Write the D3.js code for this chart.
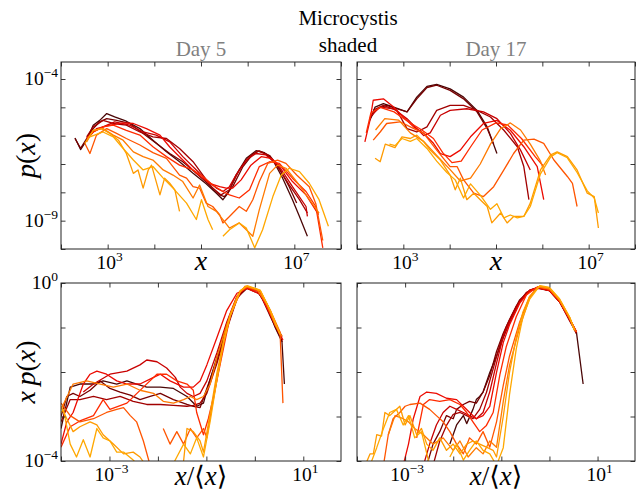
<!DOCTYPE html>
<html>
<head>
<meta charset="utf-8">
<script src="https://cdn.jsdelivr.net/npm/d3@7"></script>
<style>
  body { margin: 0; background: #fff; }
</style>
</head>
<body>
<svg id="fig" width="637" height="496" font-family="Liberation Serif, Times New Roman, DejaVu Serif, serif"></svg>
<script>
// Colour of each sampling day's curve, darkest first
const seriesColors = ["#4a0606", "#760000", "#a10000", "#c80000", "#ec0a00",
                      "#ff2b00", "#ff5500", "#ff7a00", "#ff9b00", "#ffa800"];

// Size distributions p(x); each point is [log10 x, log10 p(x)], null = empty bin
const day5Density = [
  [[2.30,-6.08],[2.42,-6.49],[2.55,-6.16],[2.69,-5.63],[2.83,-5.46],[2.98,-5.22],[3.15,-5.34],[3.40,-5.49],[3.69,-5.75],[3.97,-6.16],[4.26,-6.57],[4.54,-6.92],[4.83,-7.33],[5.11,-7.70],[5.33,-8.03],[5.47,-8.26],[5.58,-8.03],[5.75,-7.39],[5.97,-6.80],[6.18,-6.53],[6.36,-6.60],[6.54,-6.86],[6.75,-7.50],[6.96,-8.26],[7.11,-8.85],[7.28,-9.55]],
  [[2.30,-6.10],[2.42,-6.45],[2.55,-6.10],[2.69,-5.75],[2.83,-5.51],[2.98,-5.40],[3.19,-5.46],[3.47,-5.57],[3.76,-5.92],[4.04,-6.27],[4.33,-6.63],[4.61,-6.92],[4.90,-7.33],[5.18,-7.74],[5.40,-8.09],[5.50,-8.15],[5.68,-7.80],[5.90,-7.09],[6.11,-6.65],[6.25,-6.54],[6.47,-6.70],[6.68,-7.15],[6.89,-7.80],[7.05,-8.38]],
  [[2.55,-6.04],[2.69,-5.69],[2.90,-5.46],[3.12,-5.57],[3.40,-5.63],[3.69,-5.87],[3.97,-6.04],[4.26,-6.10],[4.54,-6.45],[4.83,-6.92],[5.04,-7.39],[5.25,-7.85],[5.43,-8.09],[5.61,-7.91],[5.82,-7.21],[6.04,-6.74],[6.22,-6.54],[6.43,-6.68],[6.64,-7.09],[6.89,-7.74],[7.11,-8.26],[7.28,-8.73]],
  [[2.55,-6.16],[2.69,-5.87],[2.90,-5.69],[3.15,-5.51],[3.47,-5.63],[3.76,-5.87],[4.04,-5.98],[4.33,-6.22],[4.61,-6.74],[4.90,-7.21],[5.11,-7.56],[5.33,-7.85],[5.47,-7.97],[5.61,-7.80],[5.75,-7.39],[5.97,-6.86],[6.18,-6.63],[6.39,-6.68],[6.68,-7.09],[6.96,-7.80],[7.25,-8.50],[7.28,-8.85]],
  [[2.55,-6.10],[2.76,-5.75],[3.05,-5.63],[3.33,-5.55],[3.55,-5.57],[3.83,-5.75],[4.12,-5.98],[4.33,-6.40],[4.61,-6.86],[4.90,-7.33],[5.18,-7.68],[5.40,-7.80],[5.54,-7.85],[5.68,-7.85],[5.86,-7.56],[6.07,-7.04],[6.29,-6.74],[6.50,-6.80],[6.72,-7.09],[6.96,-7.62],[7.25,-8.09],[7.52,-8.79]],
  [[2.55,-6.10],[2.69,-5.87],[2.90,-5.69],[3.12,-5.63],[3.40,-5.81],[3.69,-5.98],[3.97,-6.39],[4.26,-6.74],[4.54,-7.04],[4.83,-7.21],[5.04,-7.44],[5.25,-7.74],[5.47,-7.97],[5.61,-8.09],[5.82,-8.20],[6.04,-7.91],[6.25,-7.09],[6.47,-6.92],[6.68,-6.98],[6.96,-7.50],[7.25,-7.97],[7.46,-8.50],[7.61,-9.96]],
  [[2.51,-6.27],[2.62,-6.63],[2.76,-5.98],[2.98,-5.75],[3.19,-5.92],[3.40,-6.10],[3.69,-6.33],[3.97,-6.60],[4.26,-6.80],[4.54,-7.39],[4.69,-7.50],[4.83,-7.80],[4.97,-7.85],[5.11,-8.38],[5.25,-8.50],[5.40,-8.79],[5.47,-9.08],[5.61,-8.85],[5.82,-8.50],[5.97,-8.67],[6.11,-8.26],[6.25,-7.62],[6.43,-6.98],[6.64,-6.86],[6.82,-6.98],[7.05,-7.39],[7.32,-7.80],[7.46,-8.40],[7.61,-9.70]],
  [[2.55,-6.22],[2.69,-5.81],[2.90,-5.75],[3.12,-5.98],[3.33,-6.16],[3.55,-6.57],[3.76,-6.74],[3.97,-6.86],[4.19,-7.21],[4.40,-7.39],[4.61,-7.62],[4.83,-8.20],[4.97,-7.74],[5.15,-8.50],[5.33,-8.67],[5.47,-8.96],[5.61,-9.26],[5.82,-9.08],[5.97,-9.32],[6.11,-9.55],[6.25,-8.61],[6.47,-7.33],[6.64,-7.04],[6.82,-7.15],[7.05,-7.62],[7.28,-8.15],[7.53,-8.73]],
  [[2.51,-6.27],[2.69,-5.81],[2.87,-5.75],[3.05,-5.92],[3.23,-6.16],[3.40,-6.63],[3.55,-7.33],[3.65,-7.21],[3.76,-7.85],[3.87,-7.21],[3.94,-7.04],[4.12,-8.09],[4.22,-7.50],[4.33,-7.68],[4.44,-7.91],[4.54,-8.67]],
  [[2.62,-6.04],[2.90,-5.87],[3.12,-6.04],[3.30,-6.39],[3.55,-6.86],[3.76,-7.21],[3.97,-7.09],[4.19,-7.50],[4.40,-7.85],[4.69,-8.38],[4.90,-8.96],[5.01,-8.26],[5.15,-8.96],[5.25,-9.32],null,[5.47,-9.55],[5.61,-9.32],[5.82,-9.08],[5.97,-9.26],[6.15,-9.96],[6.32,-9.32],[6.54,-8.15],[6.72,-7.39],[6.89,-7.15],[7.11,-7.27],[7.32,-7.68],[7.53,-8.26],[7.73,-9.20]]
];

const day17Density = [
  [[2.28,-5.46],[2.39,-4.99],[2.57,-4.87],[2.79,-4.99],[3.08,-5.16],[3.29,-4.64],[3.51,-4.26],[3.72,-4.19],[4.01,-4.35],[4.30,-4.64],[4.59,-5.11],[4.81,-5.69],[5.02,-6.63]],
  [[2.28,-5.40],[2.43,-5.05],[2.64,-4.93],[2.86,-5.05],[3.08,-5.16],[3.29,-4.70],[3.51,-4.30],[3.72,-4.22],[4.01,-4.40],[4.30,-4.70],[4.59,-5.16],[4.81,-5.75],[4.95,-6.30]],
  [[2.35,-5.10],[2.57,-4.93],[2.86,-5.11],[3.08,-5.75],[3.29,-5.87],[3.51,-5.69],[3.72,-5.11],[4.01,-4.93],[4.30,-4.93],[4.59,-5.11],[4.88,-5.34],[5.17,-5.81],[5.46,-6.39],[5.60,-7.09],[5.71,-8.26]],
  [[2.30,-5.30],[2.50,-4.99],[2.79,-5.05],[3.08,-5.40],[3.44,-6.00],[3.58,-5.90],[3.80,-5.28],[4.01,-5.11],[4.37,-5.05],[4.73,-5.16],[5.02,-5.40],[5.31,-5.92],[5.53,-6.51],[5.74,-7.21]],
  [[2.17,-6.22],[2.28,-5.46],[2.35,-4.75],[2.57,-4.70],[2.79,-4.99],[3.00,-5.34],[3.22,-5.69],[3.44,-5.92],[3.65,-6.27],[3.80,-6.63],[4.01,-6.74],[4.23,-6.51],[4.45,-6.04],[4.73,-5.57],[5.02,-5.46],[5.31,-5.81],[5.60,-6.39],[5.89,-7.09],[6.03,-8.26]],
  [[2.20,-5.90],[2.30,-5.20],[2.50,-5.00],[2.80,-5.16],[3.10,-5.50],[3.40,-5.80],[3.65,-6.10],[3.85,-6.60],[4.05,-6.95],[4.25,-6.90],[4.45,-6.40],[4.70,-5.80],[5.00,-5.55],[5.25,-5.62],[5.55,-6.10],[5.85,-6.75],[6.03,-7.09]],
  [[2.35,-6.16],[2.50,-5.87],[2.64,-5.57],[2.93,-5.51],[3.15,-5.69],[3.44,-5.92],[3.72,-6.51],[4.01,-7.09],[4.16,-7.09],[4.30,-7.56],[4.52,-8.03],[4.73,-8.15],[4.95,-7.80],[5.17,-7.21],[5.38,-6.63],[5.60,-6.16],[5.82,-6.12],[6.03,-6.27],[6.25,-6.86],[6.54,-7.44],[6.65,-7.68],[6.75,-8.50]],
  [[2.40,-5.80],[2.60,-5.40],[2.90,-5.45],[3.15,-5.90],[3.44,-6.20],[3.72,-6.70],[4.01,-7.20],[4.23,-7.60],[4.45,-7.50],[4.66,-7.00],[4.88,-6.30],[5.10,-5.75],[5.31,-5.55],[5.53,-5.80],[5.74,-6.30],[5.96,-6.90],[6.07,-7.39]],
  [[2.39,-6.80],[2.50,-6.92],[2.61,-6.30],[2.82,-6.42],[2.97,-6.04],[3.15,-6.10],[3.29,-5.98],[3.44,-6.22],[3.58,-6.51],[3.80,-6.86],[4.01,-7.39],[4.12,-7.91],[4.23,-7.50],[4.37,-8.26],[4.52,-8.03],[4.66,-8.26],[4.81,-8.50],[4.91,-9.08],[5.10,-8.73],[5.24,-9.08],[5.38,-8.85],[5.60,-8.85],[5.74,-8.38],[5.96,-7.21],[6.18,-6.68],[6.32,-6.57],[6.54,-6.74],[6.75,-7.21],[6.97,-8.03],[7.12,-8.15],[7.21,-9.26]],
  [[2.70,-6.30],[2.82,-6.35],[2.97,-6.10],[3.15,-6.20],[3.29,-6.10],[3.51,-6.45],[3.72,-6.90],[3.94,-7.30],[4.12,-7.56],[4.30,-8.20],[4.45,-7.70],[4.66,-8.10],[4.88,-8.60],[5.02,-8.40],[5.17,-8.90],[5.31,-8.80],[5.46,-8.90],[5.60,-8.85],[5.74,-8.50],[5.96,-7.35],[6.18,-6.75],[6.32,-6.60],[6.54,-6.78],[6.75,-7.30],[6.97,-7.95],[7.12,-8.20],[7.21,-8.73]]
];

// Rescaled distributions; each point is [log10 x/<x>, log10 x p(x)]
const day5Scaled = [
  [[-4.0,-3.27],[-3.81,-2.34],[-3.61,-2.27],[-3.33,-2.27],[-3.13,-2.20],[-2.85,-2.27],[-2.64,-2.20],[-2.44,-2.27],[-2.23,-2.34],[-1.95,-2.34],[-1.68,-2.37],[-1.40,-2.55],[-1.20,-2.77],[-1.06,-2.70],[-0.96,-2.30],[-0.78,-1.66],[-0.58,-0.92],[-0.37,-0.33],[-0.20,-0.10],[0.04,-0.16],[0.25,-0.52],[0.42,-1.00],[0.56,-1.32],[0.61,-2.27]],
  [[-4.0,-3.00],[-3.88,-2.55],[-3.75,-2.48],[-3.61,-2.55],[-3.40,-2.41],[-3.19,-2.20],[-2.99,-2.37],[-2.78,-2.45],[-2.57,-2.52],[-2.37,-2.62],[-2.16,-2.55],[-1.95,-2.48],[-1.68,-2.62],[-1.40,-2.73],[-1.27,-2.77],[-1.13,-2.80],[-0.99,-2.37],[-0.78,-1.73],[-0.58,-1.00],[-0.37,-0.33],[-0.16,-0.12],[0.11,-0.25],[0.32,-0.75],[0.52,-1.20],[0.57,-1.32]],
  [[-4.0,-3.12],[-3.81,-2.62],[-3.61,-2.62],[-3.33,-2.55],[-3.06,-2.62],[-2.78,-2.55],[-2.51,-2.66],[-2.23,-2.73],[-1.95,-2.73],[-1.68,-2.75],[-1.40,-2.77],[-1.27,-2.75],[-1.13,-2.70],[-0.99,-2.48],[-0.78,-1.80],[-0.58,-1.05],[-0.37,-0.36],[-0.20,-0.11],[0.04,-0.17],[0.25,-0.48],[0.42,-0.92],[0.56,-1.20]],
  [[-3.54,-2.45],[-3.33,-2.27],[-2.99,-2.05],[-2.64,-1.98],[-2.37,-1.84],[-2.23,-1.73],[-2.02,-1.77],[-1.82,-1.91],[-1.64,-2.12],[-1.54,-2.34],[-1.40,-2.48],[-1.27,-2.55],[-1.13,-2.48],[-0.99,-2.20],[-0.78,-1.56],[-0.58,-0.88],[-0.37,-0.30],[-0.20,-0.10],[0.04,-0.16],[0.25,-0.50],[0.42,-0.94],[0.56,-1.22]],
  [[-4.0,-3.62],[-3.88,-3.12],[-3.75,-2.91],[-3.54,-2.27],[-3.40,-2.05],[-3.26,-1.98],[-3.06,-2.05],[-2.85,-2.20],[-2.64,-2.27],[-2.37,-2.27],[-2.09,-2.12],[-1.95,-2.05],[-1.75,-2.20],[-1.47,-2.34],[-1.27,-2.34],[-1.13,-2.20],[-0.99,-1.84],[-0.78,-1.22],[-0.58,-0.62],[-0.37,-0.23],[-0.16,-0.12],[0.11,-0.25],[0.32,-0.71],[0.52,-1.16],[0.58,-1.28]],
  [[-4.0,-3.69],[-3.81,-3.23],[-3.61,-3.10],[-3.33,-2.98],[-3.13,-2.62],[-2.99,-2.84],[-2.64,-2.70],[-2.30,-2.34],[-2.02,-2.05],[-1.82,-2.05],[-1.61,-2.20],[-1.40,-2.27],[-1.27,-2.41],[-1.20,-2.91],[-1.06,-3.41],[-0.96,-3.05],[-0.85,-2.55],[-0.71,-1.80],[-0.51,-0.75],[-0.30,-0.20],[-0.16,-0.10],[0.11,-0.20],[0.32,-0.69],[0.52,-1.16]],
  [[-4.0,-2.70],[-3.81,-2.98],[-3.61,-3.12],[-3.33,-3.05],[-3.06,-2.91],[-2.85,-2.84],[-2.71,-2.80],[-2.57,-2.98],[-2.44,-3.12],[-2.30,-3.55],[-2.16,-4.10],null,[-1.89,-3.27],[-1.75,-3.62],[-1.61,-3.34],[-1.47,-3.62],[-1.33,-3.27],[-1.20,-3.48],[-1.06,-3.27],[-0.99,-3.48],[-0.92,-3.00],[-0.78,-2.16],[-0.64,-1.32],[-0.51,-0.75],[-0.30,-0.18],[-0.16,-0.09],[0.11,-0.18],[0.32,-0.62],[0.52,-1.10],[0.58,-2.70]],
  [[-4.0,-2.84],[-3.75,-2.27],[-3.47,-2.20],[-3.19,-2.27],[-2.92,-2.34],[-2.64,-2.27],[-2.37,-2.41],[-2.09,-2.48],[-1.89,-2.66],[-1.68,-2.70],[-1.47,-2.62],[-1.33,-2.55],[-1.20,-2.62],[-1.06,-2.55],[-0.92,-2.27],[-0.78,-1.66],[-0.58,-0.94],[-0.37,-0.30],[-0.20,-0.07],[0.04,-0.14],[0.25,-0.48],[0.42,-0.94],[0.56,-1.20]],
  [[-4.0,-2.77],[-3.88,-3.05],[-3.75,-3.34],[-3.61,-3.23],[-3.40,-3.12],[-3.26,-3.19],[-3.13,-3.41],[-2.92,-3.62],[-2.71,-3.84],[-2.51,-3.80],[-2.37,-3.91],[-2.25,-4.10],null,[-1.48,-4.10],[-1.40,-3.27],[-1.27,-3.34],[-1.13,-3.55],[-1.06,-3.80],[-0.92,-2.91],[-0.78,-2.01],[-0.64,-1.26],[-0.51,-0.71],[-0.30,-0.17],[-0.16,-0.07],[0.11,-0.17],[0.32,-0.62],[0.52,-1.14]],
  [[-4.0,-2.91],[-3.95,-2.84],[-3.81,-3.62],[-3.68,-3.91],[-3.54,-3.52],[-3.40,-3.91],[-3.26,-3.27],[-3.13,-3.48],[-2.99,-3.55],[-2.85,-3.80],[-2.71,-3.80],[-2.51,-3.98],[-2.40,-4.10],null,[-1.70,-4.10],[-1.61,-3.91],[-1.47,-3.62],[-1.33,-3.84],[-1.20,-3.48],[-1.06,-3.91],[-0.92,-3.10],[-0.78,-2.16],[-0.64,-1.32],[-0.51,-0.75],[-0.30,-0.18],[-0.16,-0.06],[0.11,-0.16],[0.32,-0.62],[0.52,-1.16]]
];

const day17Scaled = [
  [[-2.07,-3.62],[-1.93,-3.19],[-1.79,-2.98],[-1.72,-3.16],[-1.59,-2.84],[-1.52,-2.62],[-1.45,-2.55],[-1.38,-2.45],[-1.24,-2.01],[-1.10,-1.64],[-0.96,-1.23],[-0.83,-0.88],[-0.62,-0.42],[-0.41,-0.17],[-0.24,-0.10],[0.00,-0.17],[0.21,-0.42],[0.42,-0.82],[0.56,-1.10],[0.70,-2.27]],
  [[-2.55,-4.10],[-2.42,-3.62],[-2.28,-3.34],[-2.14,-2.98],[-2.00,-3.05],[-1.93,-2.84],[-1.79,-2.73],[-1.66,-2.66],[-1.52,-2.70],[-1.38,-2.45],[-1.24,-2.08],[-1.10,-1.54],[-0.96,-1.13],[-0.83,-0.82],[-0.62,-0.38],[-0.41,-0.16],[-0.24,-0.11],[0.00,-0.17],[0.21,-0.42],[0.42,-0.82],[0.56,-1.14]],
  [[-2.42,-4.10],[-2.28,-3.55],[-2.14,-3.20],[-2.00,-2.95],[-1.86,-2.91],[-1.72,-2.98],[-1.59,-3.05],[-1.45,-2.84],[-1.31,-2.46],[-1.17,-1.93],[-1.03,-1.39],[-0.90,-0.99],[-0.69,-0.52],[-0.48,-0.21],[-0.24,-0.12],[0.00,-0.17],[0.21,-0.42],[0.42,-0.85],[0.56,-1.12]],
  [[-2.62,-4.10],[-2.49,-3.62],[-2.35,-3.19],[-2.21,-2.91],[-2.07,-2.77],[-1.93,-2.84],[-1.79,-2.91],[-1.66,-2.98],[-1.52,-3.05],[-1.38,-2.91],[-1.24,-2.44],[-1.10,-1.80],[-0.96,-1.20],[-0.83,-0.88],[-0.62,-0.42],[-0.41,-0.16],[-0.24,-0.10],[0.00,-0.16],[0.21,-0.40],[0.42,-0.81],[0.56,-1.09]],
  [[-3.04,-4.10],[-2.93,-3.62],[-2.83,-3.05],[-2.69,-2.55],[-2.55,-2.45],[-2.35,-2.48],[-2.14,-2.59],[-1.93,-2.62],[-1.79,-2.77],[-1.66,-2.91],[-1.52,-3.05],[-1.38,-2.98],[-1.24,-2.77],[-1.10,-2.01],[-0.96,-1.34],[-0.83,-0.94],[-0.62,-0.46],[-0.41,-0.17],[-0.24,-0.11],[0.00,-0.17],[0.21,-0.42],[0.42,-0.82],[0.56,-1.10]],
  [[-2.76,-3.48],[-2.62,-2.73],[-2.49,-2.62],[-2.28,-2.66],[-2.07,-2.62],[-1.86,-2.73],[-1.72,-2.91],[-1.59,-3.12],[-1.45,-3.34],[-1.31,-3.20],[-1.17,-2.91],[-1.03,-2.06],[-0.90,-1.44],[-0.69,-0.76],[-0.48,-0.27],[-0.24,-0.08],[0.00,-0.14],[0.21,-0.39],[0.42,-0.80],[0.56,-1.10]],
  [[-3.45,-4.10],[-3.35,-3.41],[-3.25,-3.05],[-3.11,-2.91],[-3.00,-2.77],[-2.90,-2.73],[-2.69,-2.70],[-2.49,-2.84],[-2.35,-2.98],[-2.21,-3.12],[-2.07,-3.34],[-1.93,-3.62],[-1.79,-3.84],[-1.66,-3.48],[-1.52,-3.62],[-1.38,-3.34],[-1.24,-3.69],[-1.10,-3.12],[-0.96,-2.30],[-0.83,-1.64],[-0.62,-0.88],[-0.41,-0.30],[-0.24,-0.09],[0.00,-0.14],[0.21,-0.39],[0.42,-0.80],[0.56,-1.10]],
  [[-3.35,-3.41],[-3.21,-2.98],[-3.04,-3.05],[-2.93,-3.12],[-2.80,-3.27],[-2.62,-3.41],[-2.42,-3.62],[-2.21,-3.48],[-2.00,-3.76],[-1.86,-3.55],[-1.69,-3.91],[-1.52,-3.70],[-1.38,-3.84],[-1.24,-3.55],[-1.10,-3.69],[-0.96,-2.66],[-0.83,-1.85],[-0.62,-1.00],[-0.41,-0.33],[-0.24,-0.08],[0.00,-0.13],[0.21,-0.39],[0.42,-0.78],[0.52,-1.05]],
  [[-3.83,-4.10],[-3.73,-3.84],[-3.66,-3.84],[-3.59,-3.41],[-3.49,-3.44],[-3.42,-2.91],[-3.32,-2.98],[-3.21,-2.87],[-3.11,-2.77],[-3.00,-3.19],[-2.90,-2.98],[-2.76,-3.41],[-2.66,-3.27],[-2.55,-3.62],[-2.42,-3.76],[-2.28,-3.48],[-2.14,-3.76],[-2.00,-3.62],[-1.86,-3.84],[-1.72,-3.62],[-1.59,-3.55],[-1.45,-3.62],[-1.31,-3.69],[-1.17,-3.76],[-1.10,-3.91],[-0.96,-3.00],[-0.83,-2.01],[-0.69,-1.22],[-0.55,-0.65],[-0.41,-0.30],[-0.20,-0.07],[0.00,-0.11],[0.21,-0.36],[0.42,-0.77],[0.52,-1.05]],
  [[-3.73,-4.10],[-3.59,-3.70],[-3.45,-3.27],[-3.32,-2.91],[-3.18,-2.84],[-3.04,-3.19],[-2.93,-2.98],[-2.80,-3.48],[-2.66,-3.34],[-2.49,-4.10],null,[-2.07,-3.91],[-1.93,-3.62],[-1.79,-3.98],[-1.66,-3.76],[-1.52,-3.55],[-1.38,-3.76],[-1.24,-3.84],[-1.10,-4.10],[-0.96,-3.70],[-0.83,-2.51],[-0.69,-1.48],[-0.55,-0.75],[-0.41,-0.36],[-0.20,-0.06],[0.00,-0.10],[0.21,-0.36],[0.42,-0.77],[0.52,-1.07]]
];

// Axis ranges and ticks
const sizeDomain = [1e2, 1e8];
const densityDomain = [1e-10, Math.pow(10, -3.4)];
const ratioDomain = [1e-4, 60];
const scaledDomain = [1e-4, 1e0];
const sizeTicks = [1e2, 1e3, 1e4, 1e5, 1e6, 1e7, 1e8];
const densityTicks = [1e-10, 1e-9, 1e-8, 1e-7, 1e-6, 1e-5, 1e-4];
const ratioTicks = [1e-4, 1e-3, 1e-2, 1e-1, 1e0, 1e1];
const scaledTicks = [1e-4, 1e-3, 1e-2, 1e-1, 1e0];
const sizeTickLabels = [[1e3, "10", "3"], [1e7, "10", "7"]];
const densityTickLabels = [[1e-4, "10", "\u22124"], [1e-9, "10", "\u22129"]];
const ratioTickLabels = [[1e-3, "10", "\u22123"], [1e1, "10", "1"]];
const scaledTickLabels = [[1e0, "10", "0"], [1e-4, "10", "\u22124"]];
const dayTitles = ["Day 5", "Day 17"];

const svg = d3.select("#fig");
const colLeft = [61, 341], colRight = [357, 635];
const rowTop = [62, 249], rowBottom = [283, 461];

const panels = [
  { id: "a", cols: colLeft,  rows: rowTop,    xd: sizeDomain,  yd: densityDomain, xt: sizeTicks,  yt: densityTicks, xl: sizeTickLabels,  yl: densityTickLabels, data: day5Density },
  { id: "b", cols: colRight, rows: rowTop,    xd: sizeDomain,  yd: densityDomain, xt: sizeTicks,  yt: densityTicks, xl: sizeTickLabels,  yl: null, data: day17Density },
  { id: "c", cols: colLeft,  rows: rowBottom, xd: ratioDomain, yd: scaledDomain,  xt: ratioTicks, yt: scaledTicks,  xl: ratioTickLabels, yl: scaledTickLabels, data: day5Scaled },
  { id: "d", cols: colRight, rows: rowBottom, xd: ratioDomain, yd: scaledDomain,  xt: ratioTicks, yt: scaledTicks,  xl: ratioTickLabels, yl: null, data: day17Scaled }
];

function powerLabel(sel, base, exp) {
  sel.append("tspan").text(base);
  sel.append("tspan").attr("dy", -8).attr("font-size", 13.5).text(exp);
}

panels.forEach(p => {
  const x = d3.scaleLog().domain(p.xd).range(p.cols);
  const y = d3.scaleLog().domain(p.yd).range([p.rows[1], p.rows[0]]);
  const g = svg.append("g");

  g.append("clipPath").attr("id", "clip-" + p.id)
    .append("rect")
    .attr("x", p.cols[0]).attr("y", p.rows[0])
    .attr("width", p.cols[1] - p.cols[0]).attr("height", p.rows[1] - p.rows[0]);

  const line = d3.line()
    .defined(d => d !== null)
    .x(d => x(Math.pow(10, d[0])))
    .y(d => y(Math.pow(10, d[1])));

  g.append("g").attr("clip-path", `url(#clip-${p.id})`)
    .selectAll("path").data(p.data).join("path")
    .attr("d", line)
    .attr("fill", "none")
    .attr("stroke", (d, i) => seriesColors[i])
    .attr("stroke-width", 1.3)
    .attr("stroke-linejoin", "round");

  // inward ticks on all four sides
  const tk = 4.5;
  const axes = [
    [d3.axisBottom(x), `translate(0,${p.rows[1]})`, p.xt],
    [d3.axisTop(x), `translate(0,${p.rows[0]})`, p.xt],
    [d3.axisLeft(y), `translate(${p.cols[0]},0)`, p.yt],
    [d3.axisRight(y), `translate(${p.cols[1]},0)`, p.yt]
  ];
  axes.forEach(([ax, tr, vals]) => {
    const a = g.append("g").attr("transform", tr)
      .call(ax.tickValues(vals).tickSize(-tk).tickFormat(""));
    a.select(".domain").remove();
    a.selectAll("line").attr("stroke", "#222").attr("stroke-width", 0.9);
  });

  g.append("rect")
    .attr("x", p.cols[0]).attr("y", p.rows[0])
    .attr("width", p.cols[1] - p.cols[0]).attr("height", p.rows[1] - p.rows[0])
    .attr("fill", "none").attr("stroke", "#222").attr("stroke-width", 1);

  p.xl.forEach(([v, b, e]) => {
    g.append("text")
      .attr("x", x(v) + 2).attr("y", p.rows[1] + 20)
      .attr("text-anchor", "middle").attr("font-size", 19.5)
      .call(powerLabel, b, e);
  });
  if (p.yl) {
    p.yl.forEach(([v, b, e]) => {
      g.append("text")
        .attr("x", p.cols[0] - 3).attr("y", y(v) + 6)
        .attr("text-anchor", "end").attr("font-size", 19.5)
        .call(powerLabel, b, e);
    });
  }
});

// Titles
const centre = (colLeft[0] + colRight[1]) / 2;
svg.append("text").attr("x", centre).attr("y", 25).attr("text-anchor", "middle")
  .attr("font-size", 21).text("Microcystis");
svg.append("text").attr("x", centre).attr("y", 52).attr("text-anchor", "middle")
  .attr("font-size", 21).text("shaded");
[colLeft, colRight].forEach((c, i) => {
  svg.append("text").attr("x", (c[0] + c[1]) / 2).attr("y", 56)
    .attr("text-anchor", "middle").attr("font-size", 21).attr("fill", "#808080")
    .text(dayTitles[i]);
});

// Axis titles
function italic(sel, s) { sel.append("tspan").attr("font-style", "italic").text(s); }
function plain(sel, s) { sel.append("tspan").text(s); }

[colLeft, colRight].forEach(c => {
  const mid = (c[0] + c[1]) / 2;
  svg.append("text").attr("x", mid).attr("y", rowTop[1] + 21)
    .attr("text-anchor", "middle").attr("font-size", 28)
    .call(italic, "x");
  const t = svg.append("text").attr("x", mid).attr("y", rowBottom[1] + 24)
    .attr("text-anchor", "middle").attr("font-size", 27);
  t.call(italic, "x"); t.call(plain, "/\u27E8"); t.call(italic, "x"); t.call(plain, "\u27E9");
});

const yl1 = svg.append("text")
  .attr("transform", `translate(35,${(rowTop[0] + rowTop[1]) / 2}) rotate(-90)`)
  .attr("text-anchor", "middle").attr("font-size", 28);
yl1.call(italic, "p"); yl1.call(plain, "("); yl1.call(italic, "x"); yl1.call(plain, ")");

const yl2 = svg.append("text")
  .attr("transform", `translate(35,${(rowBottom[0] + rowBottom[1]) / 2}) rotate(-90)`)
  .attr("text-anchor", "middle").attr("font-size", 28);
yl2.call(italic, "x"); yl2.call(plain, "\u2009"); yl2.call(italic, "p"); yl2.call(plain, "("); yl2.call(italic, "x"); yl2.call(plain, ")");
</script>
</body>
</html>
